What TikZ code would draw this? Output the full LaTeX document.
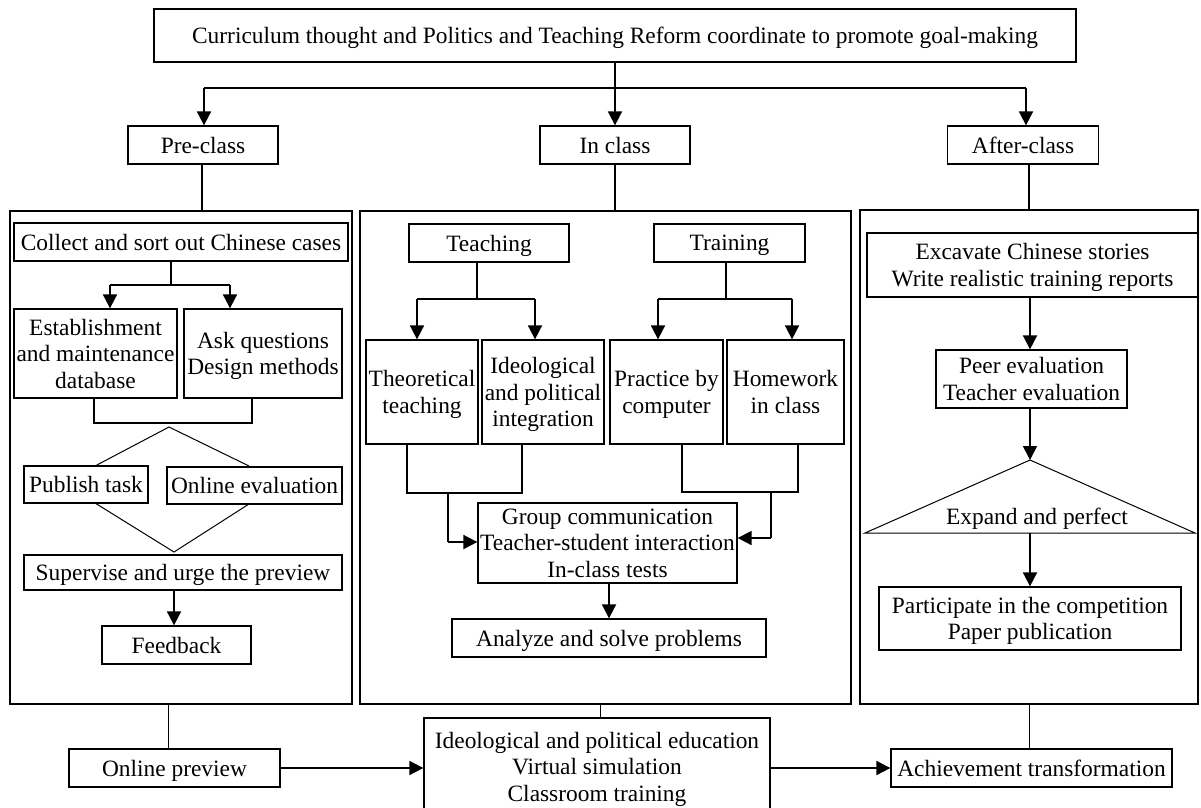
\documentclass[tikz,border=0pt]{standalone}
\usepackage{fontspec}
\setmainfont{Liberation Serif}
\usetikzlibrary{arrows.meta}
\begin{document}
\begin{tikzpicture}[x=1pt,y=-1pt,
  box/.style={draw, line width=1.3pt, fill=white, inner sep=0pt, align=center,
    text depth=0pt, font=\fontsize{23.4}{26.6}\selectfont},
  bx/.style n args={2}{box, minimum width=#1pt, minimum height=#2pt},
  panel/.style={draw, line width=1.3pt, inner sep=0pt},
  pn/.style n args={2}{panel, minimum width=#1pt, minimum height=#2pt},
  arr/.style={line width=1.8pt, -{Triangle[length=14pt,width=14pt]}},
  ln/.style={line width=1.8pt},
  mln/.style={line width=1.3pt},
  thinln/.style={line width=1pt},
  lbl/.style={inner sep=0pt, text depth=0pt, font=\fontsize{23.4}{26.6}\selectfont}]
\clip (0,0) rectangle (1201,807);
\fill[white] (0,0) rectangle (1201,807);

% panels
\node[pn={342}{493}] (pl) at (181,457.5) {};
\node[pn={491}{493}] (pm) at (605.5,457.5) {};
\node[pn={338}{494}] (pr) at (1029,457) {};

% top level
\node[bx={922}{53}] (top) at (615,35.5) {Curriculum thought and Politics and Teaching Reform coordinate to promote goal-making};
\node[bx={150}{38}] (pre) at (203,145) {Pre-class};
\node[bx={150}{38}] (inc) at (615,145) {In class};
\node[bx={151}{38}] (aft) at (1023,145) {After-class};

\coordinate (tj) at (615,88);
\coordinate (tl) at (204,88);
\coordinate (tr) at (1026,88);
\draw[ln] (top.south) -- (tj);
\draw[ln] (tl) -- (tr);
\draw[arr] (tl) -- (pre.north -| tl);
\draw[arr] (tj) -- (inc.north);
\draw[arr] (tr) -- (aft.north -| tr);

\coordinate (v1) at (202,164);
\coordinate (v3) at (1029,164);
\draw[mln] (v1) -- (v1 |- pl.north);
\draw[mln] (inc.south) -- (inc.south |- pm.north);
\draw[mln] (v3) -- (v3 |- pr.north);

% left panel
\node[bx={334}{38}] (col) at (181,242) {Collect and sort out Chinese cases};
\node[bx={163}{89}] (est) at (95.5,353.5) {Establishment\\and maintenance\\database};
\node[bx={158}{89}] (ask) at (263,353.5) {Ask questions\\Design methods};
\coordinate (cj) at (171,285);
\coordinate (ca) at (110,285);
\coordinate (cb) at (230,285);
\draw[ln] (col.south -| cj) -- (cj);
\draw[ln] (ca) -- (cb);
\draw[arr] (ca) -- (est.north -| ca);
\draw[arr] (cb) -- (ask.north -| cb);
\coordinate (ej1) at (94,423);
\coordinate (ej2) at (252,423);
\draw[mln] (est.south -| ej1) -- (ej1) -- (ej2) -- (ask.south -| ej2);

\draw[thinln] (95,466) -- (169,427) -- (249,466);
\draw[thinln] (95,503) -- (174,552) -- (249,504);
\node[bx={124}{37}] (pub) at (86,484.5) {Publish task};
\node[bx={175}{37}] (onl) at (254.5,485.5) {Online evaluation};
\node[bx={318}{35}] (sup) at (183,572.5) {Supervise and urge the preview};
\node[bx={149}{38}] (feed) at (176.5,645) {Feedback};
\coordinate (sj) at (174,590);
\draw[arr] (sj) -- (feed.north -| sj);

% middle panel
\node[bx={160}{38}] (teach) at (489,243) {Teaching};
\node[bx={151}{38}] (train) at (729.5,243) {Training};
\node[bx={112}{104}] (theo) at (422,392) {Theoretical\\teaching};
\node[bx={122}{104}] (ideo) at (543,392) {Ideological\\and political\\integration};
\node[bx={113}{104}] (prac) at (666.5,392) {Practice by\\computer};
\node[bx={117}{104}] (home) at (785.5,392) {Homework\\in class};
\node[bx={259}{80}] (grp) at (607.5,543) {Group communication\\Teacher-student interaction\\In-class tests};
\node[bx={314}{38}] (anal) at (609,638) {Analyze and solve problems};

\coordinate (tj1) at (477,299);
\coordinate (ta) at (417,299);
\coordinate (tb) at (535,299);
\draw[ln] (teach.south -| tj1) -- (tj1);
\draw[ln] (ta) -- (tb);
\draw[arr] (ta) -- (theo.north -| ta);
\draw[arr] (tb) -- (ideo.north -| tb);
\coordinate (rj1) at (726,299);
\coordinate (ra) at (658,299);
\coordinate (rb) at (792,299);
\draw[ln] (train.south -| rj1) -- (rj1);
\draw[ln] (ra) -- (rb);
\draw[arr] (ra) -- (prac.north -| ra);
\draw[arr] (rb) -- (home.north -| rb);

\coordinate (lj1) at (407,493);
\coordinate (lj2) at (522,493);
\coordinate (lj3) at (448,493);
\coordinate (lj4) at (448,542);
\draw[mln] (theo.south -| lj1) -- (lj1) -- (lj2) -- (ideo.south -| lj2);
\draw[mln] (lj3) -- (lj4);
\draw[arr] (lj4) -- (grp.west |- lj4);
\coordinate (rj2) at (682,492);
\coordinate (rj3) at (798,492);
\coordinate (rj4) at (771,492);
\coordinate (rj5) at (771,538);
\draw[mln] (prac.south -| rj2) -- (rj2) -- (rj3) -- (home.south -| rj3);
\draw[mln] (rj4) -- (rj5);
\draw[arr] (rj5) -- (grp.east |- rj5);
\draw[arr] (grp.south -| anal.north) -- (anal.north);

% right panel
\node[bx={331}{64}] (exc) at (1032.5,265) {Excavate Chinese stories\\Write realistic training reports};
\node[bx={191}{58}] (peer) at (1031.5,379) {Peer evaluation\\Teacher evaluation};
\coordinate (tri) at (1030,460);
\draw[thinln] (tri) -- (865,533) -- (1195,533) -- cycle;
\node[lbl] (exp) at (1037,516) {Expand and perfect};
\coordinate (trib) at (1030,533);
\node[bx={302}{63}] (part) at (1030,618.5) {Participate in the competition\\Paper publication};
\draw[arr] (exc.south -| tri) -- (peer.north -| tri);
\draw[arr] (peer.south -| tri) -- (tri);
\draw[arr] (trib) -- (part.north -| trib);

% bottom
\node[bx={211}{38}] (onp) at (174.5,768) {Online preview};
\node[bx={346}{97}] (cbx) at (597,766.5) {Ideological and political education\\Virtual simulation\\Classroom training};
\node[bx={281}{38}] (ach) at (1031.5,768) {Achievement transformation};
\coordinate (b1) at (168,749);
\coordinate (b2) at (600,718);
\coordinate (b3) at (1029,749);
\draw[thinln] (pl.south -| b1) -- (b1);
\draw[thinln] (pm.south -| b2) -- (b2);
\draw[thinln] (pr.south -| b3) -- (b3);
\draw[arr] (onp.east) -- (cbx.west |- onp.east);
\draw[arr] (cbx.east |- ach.west) -- (ach.west);
\end{tikzpicture}
\end{document}
